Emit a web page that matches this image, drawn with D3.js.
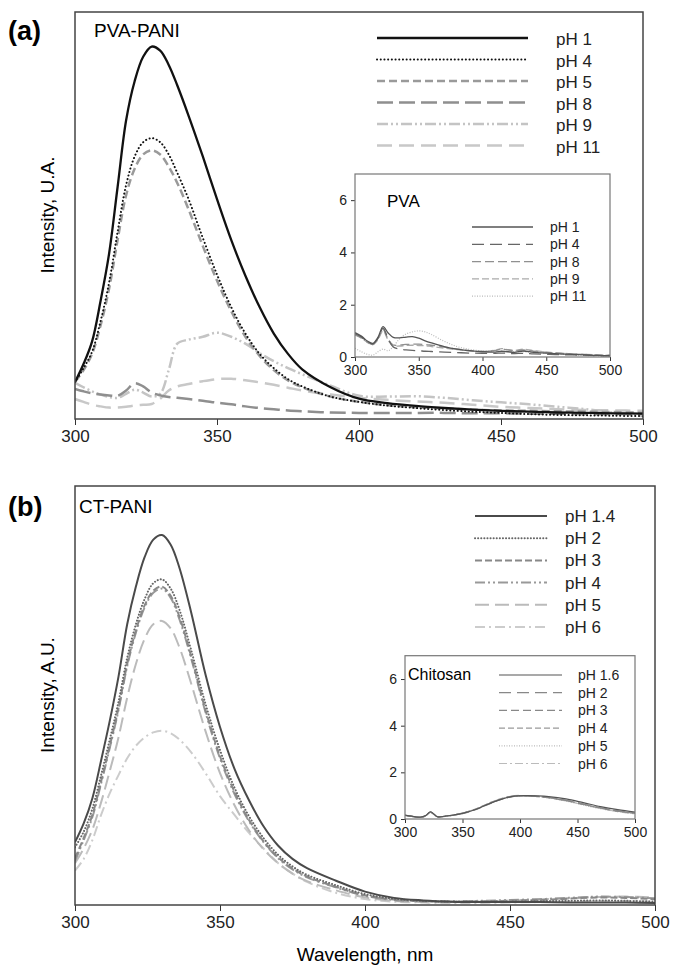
<!DOCTYPE html>
<html lang="en">
<head>
<meta charset="utf-8">
<title>PVA-PANI / CT-PANI fluorescence spectra</title>
<script src="https://d3js.org/d3.v7.min.js"></script>
<style>
  body { margin: 0; background: #fff; }
  svg { font-family: "Liberation Sans", Arial, sans-serif; }
</style>
</head>
<body>
<script>

// ---------- data ----------

// panel (a) PVA-PANI, wavelength grid in nm
var wlA = [300,303,306,309,312,315,318,321,324,327,330,333,336,340,345,350,355,360,365,370,375,380,390,400,410,420,430,440,450,460,470,480,490,500];
var pvaPani_pH1  = [0.91,1.35,1.9,2.9,4.06,5.7,7.34,8.3,8.9,9.15,9.05,8.7,8.2,7.45,6.45,5.4,4.4,3.52,2.75,2.1,1.6,1.22,0.78,0.5,0.39,0.32,0.27,0.23,0.2,0.18,0.16,0.15,0.14,0.13];
var pvaPani_pH4  = [0.91,1.25,1.65,2.4,3.35,4.6,5.75,6.45,6.8,6.9,6.8,6.5,6.05,5.4,4.45,3.55,2.75,2.1,1.6,1.25,0.98,0.8,0.55,0.42,0.33,0.27,0.22,0.18,0.15,0.12,0.1,0.09,0.08,0.07];
var pvaPani_pH5  = [0.91,1.2,1.6,2.3,3.2,4.4,5.5,6.15,6.5,6.6,6.5,6.2,5.8,5.15,4.25,3.4,2.65,2.02,1.55,1.2,0.95,0.78,0.55,0.42,0.34,0.29,0.26,0.23,0.21,0.2,0.19,0.18,0.17,0.15];
var pvaPani_pH8  = [0.74,0.68,0.63,0.6,0.58,0.57,0.7,0.88,0.8,0.65,0.58,0.54,0.52,0.49,0.45,0.4,0.36,0.31,0.27,0.24,0.21,0.19,0.16,0.15,0.15,0.15,0.15,0.14,0.14,0.13,0.13,0.12,0.12,0.12];
var pvaPani_pH9  = [0.89,0.78,0.68,0.6,0.54,0.52,0.62,0.72,0.65,0.55,0.62,1.2,1.85,1.95,2.02,2.12,2.02,1.85,1.62,1.42,1.25,1.1,0.82,0.57,0.55,0.56,0.52,0.46,0.41,0.36,0.3,0.24,0.15,0.07];
var pvaPani_pH11 = [0.49,0.42,0.35,0.31,0.28,0.28,0.3,0.33,0.35,0.37,0.5,0.7,0.8,0.86,0.93,0.98,0.99,0.95,0.9,0.84,0.77,0.7,0.6,0.52,0.47,0.43,0.4,0.35,0.3,0.27,0.24,0.22,0.21,0.2];

// inset (a) PVA alone
var wlInA = [300,305,310,314,318,322,326,330,335,340,345,350,355,360,370,380,390,400,410,415,420,425,432,440,450,460,470,480,490,500];
var pva_pH1  = [0.93,0.8,0.6,0.52,0.75,1.16,0.92,0.75,0.73,0.76,0.78,0.72,0.62,0.54,0.4,0.3,0.24,0.2,0.19,0.22,0.2,0.18,0.23,0.18,0.15,0.12,0.1,0.08,0.06,0.05];
var pva_pH4  = [0.9,0.77,0.58,0.5,0.72,1.1,0.7,0.38,0.3,0.27,0.25,0.24,0.22,0.21,0.19,0.17,0.15,0.14,0.14,0.15,0.14,0.13,0.14,0.12,0.1,0.09,0.08,0.07,0.05,0.04];
var pva_pH8  = [0.86,0.74,0.56,0.48,0.7,1.05,0.68,0.46,0.46,0.48,0.49,0.49,0.48,0.45,0.38,0.3,0.24,0.21,0.25,0.3,0.27,0.24,0.27,0.22,0.18,0.15,0.12,0.1,0.08,0.07];
var pva_pH9  = [0.84,0.72,0.55,0.47,0.66,1.0,0.64,0.42,0.42,0.44,0.45,0.44,0.43,0.4,0.34,0.28,0.23,0.21,0.26,0.32,0.28,0.25,0.3,0.24,0.19,0.15,0.12,0.1,0.08,0.06];
var pva_pH11 = [0.33,0.2,0.1,0.07,0.2,0.3,0.24,0.4,0.7,0.88,0.96,1.0,0.96,0.86,0.6,0.4,0.29,0.23,0.22,0.22,0.21,0.2,0.2,0.17,0.14,0.11,0.09,0.06,0.04,0.03];

// panel (b) CT-PANI
var wlB = [300,303,306,309,312,315,318,321,324,327,330,333,336,340,345,350,355,360,365,370,375,380,390,400,410,420,430,440,450,460,470,480,490,500];
var ctPani_pH14 = [1.5,1.95,2.55,3.45,4.4,5.45,6.7,7.6,8.3,8.72,8.83,8.6,8.05,7.0,5.5,4.25,3.25,2.5,1.88,1.42,1.1,0.88,0.58,0.32,0.17,0.11,0.08,0.07,0.07,0.07,0.06,0.06,0.06,0.05];
var ctPani_pH2  = [1.38,1.75,2.3,3.1,3.95,4.85,5.9,6.7,7.3,7.68,7.77,7.55,7.05,6.1,4.8,3.7,2.8,2.12,1.6,1.2,0.92,0.72,0.47,0.26,0.15,0.1,0.08,0.08,0.08,0.09,0.1,0.11,0.1,0.08];
var ctPani_pH3  = [1.12,1.6,2.15,2.95,3.8,4.7,5.75,6.55,7.15,7.5,7.6,7.38,6.88,5.95,4.65,3.55,2.7,2.03,1.52,1.14,0.87,0.68,0.43,0.23,0.13,0.09,0.08,0.09,0.1,0.12,0.15,0.18,0.17,0.14];
var ctPani_pH4  = [1.05,1.55,2.1,2.9,3.75,4.65,5.7,6.5,7.1,7.45,7.55,7.33,6.82,5.9,4.6,3.5,2.65,2.0,1.5,1.12,0.85,0.66,0.42,0.22,0.12,0.09,0.09,0.1,0.12,0.14,0.17,0.2,0.19,0.16];
var ctPani_pH5  = [1.0,1.35,1.8,2.45,3.2,4.0,4.95,5.75,6.35,6.7,6.78,6.6,6.15,5.3,4.15,3.15,2.38,1.78,1.33,1.0,0.75,0.57,0.35,0.18,0.1,0.07,0.07,0.08,0.1,0.13,0.16,0.19,0.2,0.18];
var ctPani_pH6  = [0.82,1.1,1.55,2.15,2.67,3.1,3.5,3.8,4.0,4.12,4.16,4.1,3.95,3.65,3.15,2.6,2.15,1.72,1.35,1.0,0.75,0.55,0.29,0.14,0.08,0.06,0.05,0.05,0.06,0.07,0.08,0.1,0.1,0.08];

// inset (b) chitosan alone
var wlInB = [300,306,313,318,322,325,328,335,342,350,362,374,385,395,405,415,425,440,455,470,485,500];
var ch_pH16 = [0.17,0.12,0.08,0.15,0.31,0.22,0.1,0.12,0.17,0.24,0.42,0.67,0.86,0.98,1.0,0.99,0.96,0.86,0.7,0.53,0.4,0.3];
var ch_pH2  = [0.16,0.11,0.07,0.14,0.3,0.2,0.1,0.12,0.17,0.25,0.43,0.68,0.87,0.98,0.99,0.97,0.92,0.8,0.64,0.48,0.35,0.26];
var ch_pH3  = [0.15,0.11,0.07,0.13,0.29,0.2,0.09,0.11,0.16,0.23,0.41,0.66,0.86,0.97,0.99,0.96,0.91,0.79,0.63,0.47,0.34,0.25];
var ch_pH4  = [0.16,0.12,0.08,0.14,0.3,0.21,0.1,0.12,0.17,0.25,0.44,0.7,0.89,0.99,1.0,0.97,0.92,0.8,0.63,0.46,0.33,0.24];
var ch_pH5  = [0.15,0.11,0.07,0.13,0.28,0.19,0.09,0.11,0.16,0.24,0.43,0.69,0.88,0.98,0.99,0.96,0.9,0.77,0.6,0.44,0.32,0.23];
var ch_pH6  = [0.16,0.12,0.08,0.14,0.29,0.2,0.1,0.12,0.17,0.25,0.44,0.7,0.9,1.0,1.0,0.97,0.91,0.78,0.61,0.45,0.32,0.22];

var xTicks     = [300,350,400,450,500];
var insetYTick = [0,2,4,6];

// ---------- drawing ----------

const svg = d3.select("body").append("svg")
    .attr("width", 674)
    .attr("height", 966);

var clipId = 0;

// draws one framed plot; g = {left,right,top,bottom}
function drawPlot(g, yMax, series, opt) {
    var x = d3.scaleLinear().domain([300, 500]).range([g.left, g.right]);
    var y = d3.scaleLinear().domain([0, yMax]).range([g.bottom, g.top]);
    var fs = opt.fontSize;

    // x axis with outward ticks
    var xAxis = svg.append("g")
        .attr("transform", "translate(0," + g.bottom + ")")
        .call(d3.axisBottom(x).tickValues(xTicks).tickSize(opt.tick).tickPadding(opt.pad).tickFormat(d3.format("d")));
    xAxis.select(".domain").remove();
    xAxis.selectAll("line").attr("stroke", "#333");
    xAxis.selectAll("text").attr("font-size", fs).attr("fill", "#222").attr("font-family", null);

    if (opt.yTicks) {
        var yAxis = svg.append("g")
            .attr("transform", "translate(" + g.left + ",0)")
            .call(d3.axisLeft(y).tickValues(opt.yTicks).tickSize(opt.tick).tickPadding(opt.pad).tickFormat(d3.format("d")));
        yAxis.select(".domain").remove();
        yAxis.selectAll("line").attr("stroke", "#333");
        yAxis.selectAll("text").attr("font-size", fs).attr("fill", "#222").attr("font-family", null);
    }

    clipId++;
    svg.append("clipPath").attr("id", "clip" + clipId)
        .append("rect")
        .attr("x", g.left).attr("y", g.top)
        .attr("width", g.right - g.left).attr("height", g.bottom - g.top);

    var line = d3.line()
        .x(d => x(d[0]))
        .y(d => y(d[1]))
        .curve(d3.curveCatmullRom.alpha(0.5));

    var lines = svg.append("g").attr("clip-path", "url(#clip" + clipId + ")");
    // draw last series first so the first (darkest) one is on top
    series.slice().reverse().forEach(function (s) {
        lines.append("path")
            .datum(d3.zip(s.wl, s.values))
            .attr("fill", "none")
            .attr("stroke", s.color)
            .attr("stroke-width", s.width)
            .attr("stroke-dasharray", s.dash)
            .attr("stroke-linecap", s.cap || "butt")
            .attr("d", line);
    });

    // frame
    svg.append("rect")
        .attr("x", g.left).attr("y", g.top)
        .attr("width", g.right - g.left).attr("height", g.bottom - g.top)
        .attr("fill", "none")
        .attr("stroke", opt.frame)
        .attr("stroke-width", opt.frameWidth);

    // legend
    var L = opt.legend;
    series.forEach(function (s, i) {
        var yy = L.y + i * L.step;
        svg.append("line")
            .attr("x1", L.x1).attr("x2", L.x2)
            .attr("y1", yy).attr("y2", yy)
            .attr("stroke", s.color)
            .attr("stroke-width", s.width)
            .attr("stroke-dasharray", s.dash)
            .attr("stroke-linecap", s.cap || "butt");
        svg.append("text")
            .attr("x", L.tx).attr("y", yy + L.dy)
            .attr("font-size", L.fontSize)
            .attr("fill", "#222")
            .text(s.name);
    });
}

// panel (a)
drawPlot({left: 75, right: 643, top: 12, bottom: 419}, 10, [
    {name: "pH 1",  wl: wlA, values: pvaPani_pH1,  color: "#111",    width: 2.3, dash: null},
    {name: "pH 4",  wl: wlA, values: pvaPani_pH4,  color: "#111",    width: 2,   dash: "0.1,3.6", cap: "round"},
    {name: "pH 5",  wl: wlA, values: pvaPani_pH5,  color: "#9a9a9a", width: 2.5, dash: "8,4"},
    {name: "pH 8",  wl: wlA, values: pvaPani_pH8,  color: "#8f8f8f", width: 2.5, dash: "16,6"},
    {name: "pH 9",  wl: wlA, values: pvaPani_pH9,  color: "#c4c4c4", width: 2.5, dash: "11,3,2,3,2,3"},
    {name: "pH 11", wl: wlA, values: pvaPani_pH11, color: "#c8c8c8", width: 2.5, dash: "15,7"}
], {fontSize: 17, tick: 6, pad: 5, frame: "#444", frameWidth: 1.5,
    legend: {x1: 377, x2: 528, tx: 556, y: 38, step: 21.5, dy: 7, fontSize: 17}});

// inset (a)
svg.append("rect").attr("x", 355).attr("y", 174).attr("width", 255).attr("height", 183).attr("fill", "#fff");
drawPlot({left: 355, right: 610, top: 174, bottom: 357}, 7, [
    {name: "pH 1",  wl: wlInA, values: pva_pH1,  color: "#555", width: 1.3, dash: null},
    {name: "pH 4",  wl: wlInA, values: pva_pH4,  color: "#666", width: 1.3, dash: "12,6"},
    {name: "pH 8",  wl: wlInA, values: pva_pH8,  color: "#909090", width: 1.3, dash: "9,4"},
    {name: "pH 9",  wl: wlInA, values: pva_pH9,  color: "#aaa", width: 1.3, dash: "7,3"},
    {name: "pH 11", wl: wlInA, values: pva_pH11, color: "#bbb", width: 1.2, dash: "1,1.5"}
], {fontSize: 14, tick: 4, pad: 4, frame: "#777", frameWidth: 1.2, yTicks: insetYTick,
    legend: {x1: 472, x2: 533, tx: 550, y: 227, step: 17.3, dy: 5, fontSize: 14}});

// panel (b)
drawPlot({left: 75, right: 655, top: 486, bottom: 905}, 10, [
    {name: "pH 1.4", wl: wlB, values: ctPani_pH14, color: "#4a4a4a", width: 2,   dash: null},
    {name: "pH 2",   wl: wlB, values: ctPani_pH2,  color: "#666",    width: 2,   dash: "0.1,3", cap: "round"},
    {name: "pH 3",   wl: wlB, values: ctPani_pH3,  color: "#888",    width: 2,   dash: "7,3"},
    {name: "pH 4",   wl: wlB, values: ctPani_pH4,  color: "#999",    width: 2,   dash: "10,3,2,3,2,3"},
    {name: "pH 5",   wl: wlB, values: ctPani_pH5,  color: "#bbb",    width: 2,   dash: "14,6"},
    {name: "pH 6",   wl: wlB, values: ctPani_pH6,  color: "#ccc",    width: 2,   dash: "10,4,2,4"}
], {fontSize: 17, tick: 6, pad: 5, frame: "#444", frameWidth: 1.5,
    legend: {x1: 475, x2: 547, tx: 565, y: 516, step: 22.2, dy: 6, fontSize: 17}});

// inset (b)
svg.append("rect").attr("x", 405).attr("y", 655.7).attr("width", 230).attr("height", 163.3).attr("fill", "#fff");
drawPlot({left: 405, right: 635, top: 655.7, bottom: 819}, 7, [
    {name: "pH 1.6", wl: wlInB, values: ch_pH16, color: "#555", width: 1.2, dash: null},
    {name: "pH 2",   wl: wlInB, values: ch_pH2,  color: "#888", width: 1.2, dash: "12,6"},
    {name: "pH 3",   wl: wlInB, values: ch_pH3,  color: "#888", width: 1.2, dash: "8,4"},
    {name: "pH 4",   wl: wlInB, values: ch_pH4,  color: "#999", width: 1.2, dash: "6,3"},
    {name: "pH 5",   wl: wlInB, values: ch_pH5,  color: "#bbb", width: 1.2, dash: "1,1.5"},
    {name: "pH 6",   wl: wlInB, values: ch_pH6,  color: "#bbb", width: 1.2, dash: "8,3,2,3"}
], {fontSize: 14, tick: 4, pad: 4, frame: "#777", frameWidth: 1.2, yTicks: insetYTick,
    legend: {x1: 499, x2: 562, tx: 578, y: 675, step: 17.7, dy: 5, fontSize: 14}});

// ---------- labels ----------
svg.append("text").attr("x", 8).attr("y", 40).attr("font-size", 27).attr("font-weight", "bold").text("(a)");
svg.append("text").attr("x", 8).attr("y", 516).attr("font-size", 27).attr("font-weight", "bold").text("(b)");
svg.append("text").attr("x", 94).attr("y", 37).attr("font-size", 19).text("PVA-PANI");
svg.append("text").attr("x", 79).attr("y", 513).attr("font-size", 19).text("CT-PANI");
svg.append("text").attr("x", 387).attr("y", 207).attr("font-size", 17).text("PVA");
svg.append("text").attr("x", 408).attr("y", 680).attr("font-size", 16).text("Chitosan");

svg.append("text")
    .attr("transform", "translate(54,215) rotate(-90)")
    .attr("text-anchor", "middle").attr("font-size", 19)
    .text("Intensity, U.A.");
svg.append("text")
    .attr("transform", "translate(54,695) rotate(-90)")
    .attr("text-anchor", "middle").attr("font-size", 19)
    .text("Intensity, A.U.");
svg.append("text")
    .attr("x", 365).attr("y", 961)
    .attr("text-anchor", "middle").attr("font-size", 19)
    .text("Wavelength, nm");

</script>
</body>
</html>
